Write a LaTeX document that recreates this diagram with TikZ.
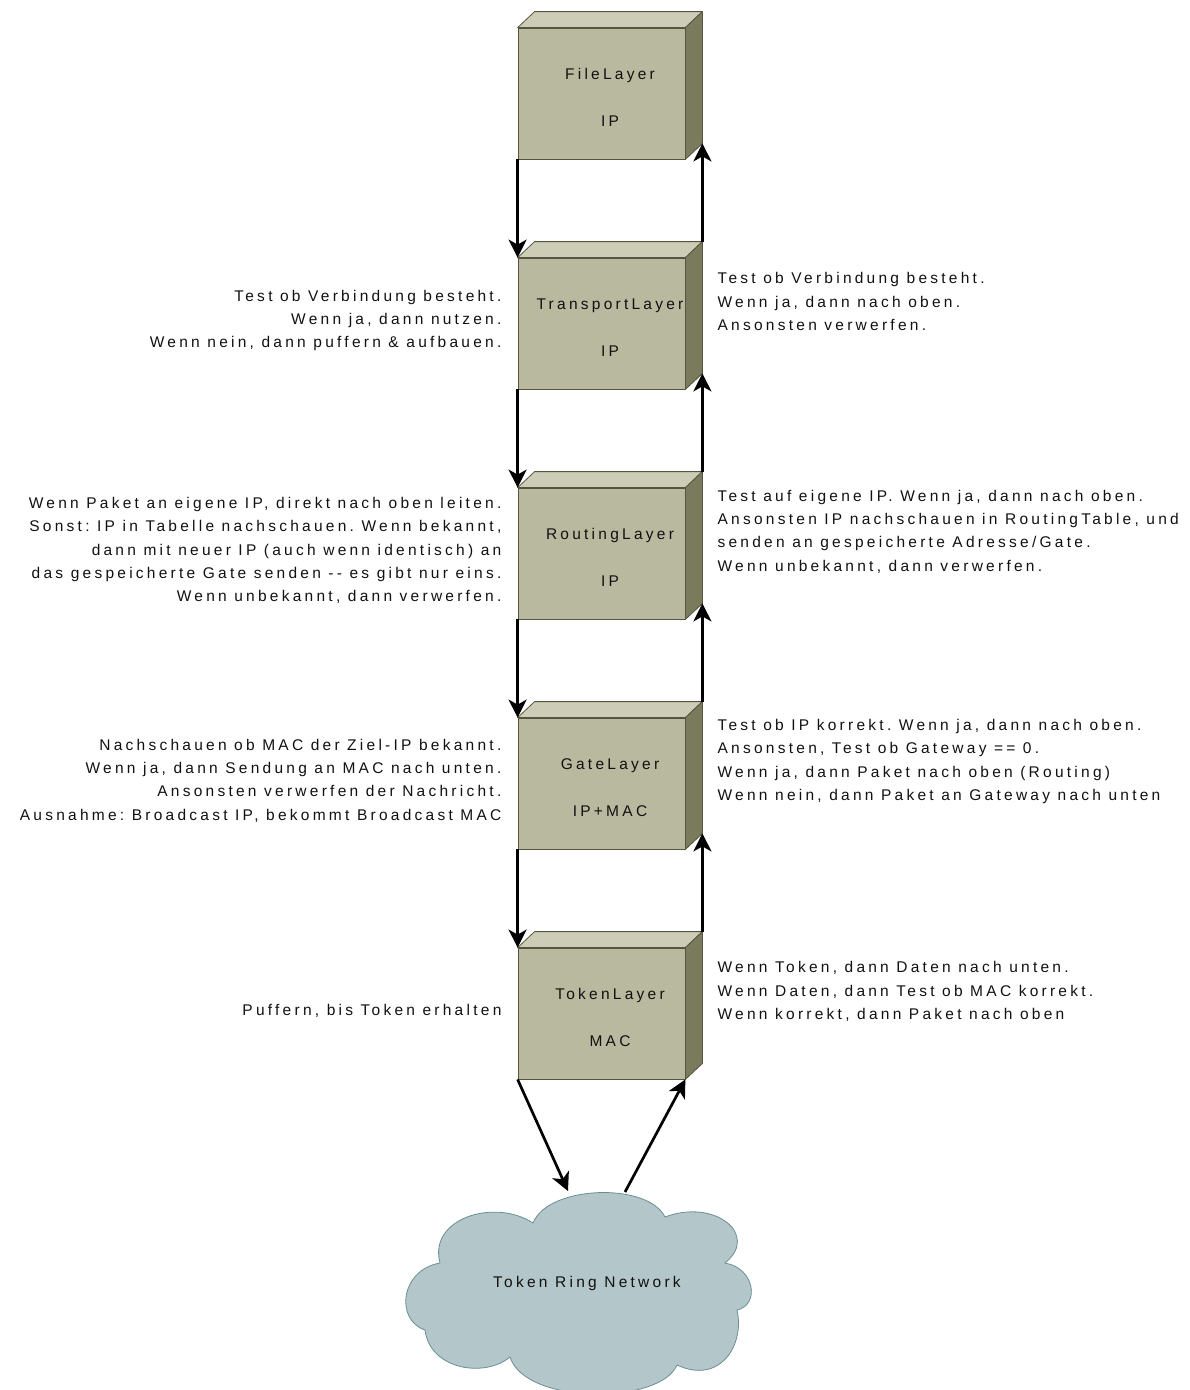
\documentclass[tikz,border=0pt]{standalone}
\usepackage{fontspec}
\setmainfont{Liberation Sans}[LetterSpace=21]
\frenchspacing
\usetikzlibrary{arrows.meta,calc,positioning}
\definecolor{boxfront}{HTML}{B9B99F}
\definecolor{boxtop}{HTML}{CDCCB6}
\definecolor{boxside}{HTML}{7A7A5C}
\definecolor{boxline}{HTML}{55553F}
\definecolor{cloudfill}{HTML}{B3C6C9}
\definecolor{cloudline}{HTML}{6A8F93}
\definecolor{ink}{HTML}{111111}
\tikzstyle{flow} = [line width=2.7pt, -{Stealth[length=18pt,width=18pt,inset=5pt]}]
\tikzstyle{front} = [draw=boxline, fill=boxfront, line width=0.8pt, minimum width=167pt, minimum height=131pt, inner sep=0pt]
\tikzstyle{topface} = [draw=boxline, fill=boxtop, line width=0.8pt, line join=round]
\tikzstyle{sideface} = [draw=boxline, fill=boxside, line width=0.8pt, line join=round]
\tikzstyle{note} = [inner sep=0pt, text=ink, font=\fontsize{15.5}{23.3}\selectfont]
% one layer: front face node + top and side faces + two labels
\newcommand{\layer}[5]{%
  \node[front] (#1) at (#2,#3) {};
  \path[topface] (#1.north west) -- ++(17,-16) -- ($(#1.north east)+(17,-16)$) -- (#1.north east) -- cycle;
  \path[sideface] (#1.north east) -- ++(17,-16) -- ($(#1.south east)+(17,-16)$) -- (#1.south east) -- cycle;
  \node[note] (#1-name) at ($(#1.north)+(8.5,48)$) {#4};
  \node[note] (#1-addr) at ($(#1.north)+(8.5,94)$) {#5};
  \coordinate (#1-back) at ($(#1.south east)+(17,-16)$);
  \coordinate (#1-lid) at ($(#1.north east)+(17,-16)$);
}

\begin{document}
\begin{tikzpicture}[x=1pt,y=-1pt]
\path[use as bounding box] (0,0) rectangle (1190,1390);

\layer{file}{601.5}{93.5}{FileLayer}{IP}
\layer{transport}{601.5}{323.5}{TransportLayer}{IP}
\layer{routing}{601.5}{553.5}{RoutingLayer}{IP}
\layer{gate}{601.5}{783.5}{GateLayer}{IP+MAC}
\layer{token}{601.5}{1013.5}{TokenLayer}{MAC}

% down / up between the layers
\draw[flow] (file.south west) -- (transport.north west);
\draw[flow] (transport-lid) -- (file-back);
\draw[flow] (transport.south west) -- (routing.north west);
\draw[flow] (routing-lid) -- (transport-back);
\draw[flow] (routing.south west) -- (gate.north west);
\draw[flow] (gate-lid) -- (routing-back);
\draw[flow] (gate.south west) -- (token.north west);
\draw[flow] (token-lid) -- (gate-back);

% left notes (sending)
\node[note, align=right, left=16pt of transport, yshift=3pt] (transport-send) {Test ob Verbindung besteht.\\Wenn ja, dann nutzen.\\Wenn nein, dann puffern \& aufbauen.};
\node[note, align=right, left=16pt of routing, yshift=3pt] (routing-send) {Wenn Paket an eigene IP, direkt nach oben leiten.\\Sonst: IP in Tabelle nachschauen. Wenn bekannt,\\dann mit neuer IP (auch wenn identisch) an\\das gespeicherte Gate senden -{}- es gibt nur eins.\\Wenn unbekannt, dann verwerfen.};
\node[note, align=right, left=16pt of gate, yshift=3pt] (gate-send) {Nachschauen ob MAC der Ziel-IP bekannt.\\Wenn ja, dann Sendung an MAC nach unten.\\Ansonsten verwerfen der Nachricht.\\Ausnahme: Broadcast IP, bekommt Broadcast MAC};
\node[note, align=right, left=16pt of token, yshift=3pt] (token-send) {Puffern, bis Token erhalten};

% right notes (receiving)
\node[note, align=left, right=32pt of transport, yshift=22pt] (transport-recv) {Test ob Verbindung besteht.\\Wenn ja, dann nach oben.\\Ansonsten verwerfen.};
\node[note, align=left, right=32pt of routing, yshift=22pt] (routing-recv) {Test auf eigene IP. Wenn ja, dann nach oben.\\Ansonsten IP nachschauen in RoutingTable, und\\senden an gespeicherte Adresse/Gate.\\Wenn unbekannt, dann verwerfen.};
\node[note, align=left, right=32pt of gate, yshift=22pt] (gate-recv) {Test ob IP korrekt. Wenn ja, dann nach oben.\\Ansonsten, Test ob Gateway == 0.\\Wenn ja, dann Paket nach oben (Routing)\\Wenn nein, dann Paket an Gateway nach unten};
\node[note, align=left, right=32pt of token, yshift=22pt] (token-recv) {Wenn Token, dann Daten nach unten.\\Wenn Daten, dann Test ob MAC korrekt.\\Wenn korrekt, dann Paket nach oben};

% the network cloud
\draw[fill=cloudfill, draw=cloudline, line width=0.8pt]
  (533,1223) .. controls (548,1185) and (648,1182) .. (665,1217)
  .. controls (715,1198) and (760,1235) .. (725,1263)
  .. controls (755,1268) and (760,1305) .. (737,1310)
  .. controls (745,1345) and (720,1385) .. (677,1365)
  .. controls (660,1405) and (525,1405) .. (510,1357)
  .. controls (485,1378) and (430,1370) .. (425,1330)
  .. controls (395,1320) and (400,1270) .. (440,1263)
  .. controls (428,1218) and (495,1198) .. cycle;
\node[note] (net) at (587,1283) {Token Ring Network};
\coordinate (net-in) at (568,1191);
\coordinate (net-out) at (625,1192);

\draw[flow] (token.south west) -- (net-in);
\draw[flow] (net-out) -- (token.south east);
\end{tikzpicture}
\end{document}
